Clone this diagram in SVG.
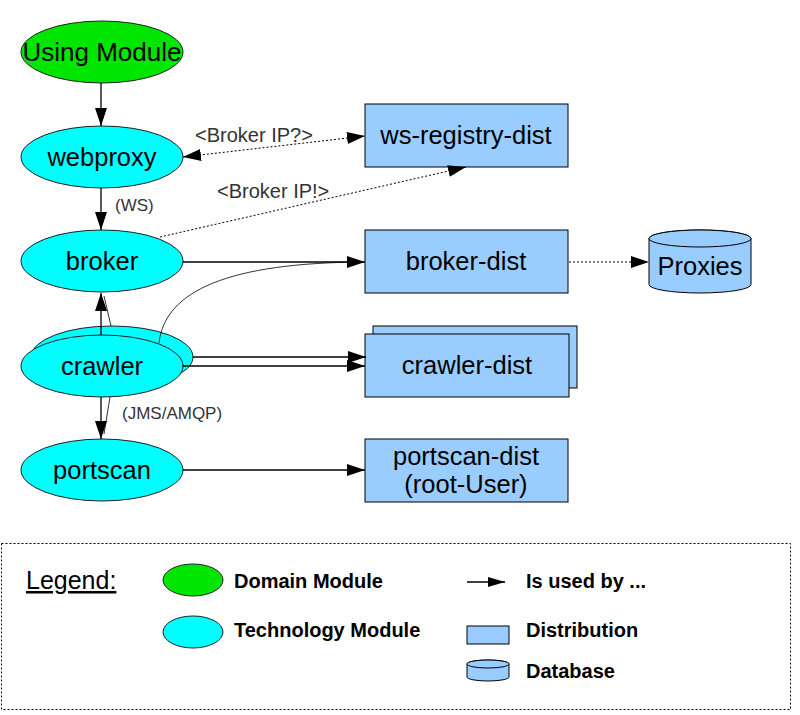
<svg xmlns="http://www.w3.org/2000/svg" width="800" height="715" viewBox="0 0 800 715">
<style>
text{font-family:"Liberation Sans",Arial,sans-serif;fill:#000}
.n{font-size:25.5px;text-anchor:middle}
.lbl{font-size:20px;fill:#333}
.sm{font-size:17px;fill:#333}
.leg{font-size:20px;font-weight:bold}
.tech{fill:#00ffff;stroke:#222;stroke-width:1}
.dom{fill:#00e600;stroke:#222;stroke-width:1}
.dist{fill:#99ccff;stroke:#000;stroke-width:1}
.c{fill:none;stroke:#000;stroke-width:1.3}
.thin{fill:none;stroke:#000;stroke-width:0.8}
.dot{fill:none;stroke:#000;stroke-width:1;stroke-dasharray:2,2}
</style>
<defs>
<marker id="ah" markerUnits="userSpaceOnUse" markerWidth="18" markerHeight="12" refX="18" refY="6" orient="auto-start-reverse">
<path d="M0,0 L18,6 L0,12 z" fill="#000"/>
</marker>
<marker id="ahs" markerUnits="userSpaceOnUse" markerWidth="17" markerHeight="10" refX="17" refY="5" orient="auto">
<path d="M0,0 L17,5 L0,10 z" fill="#000"/>
</marker>
</defs>

<g id="using-module">
<ellipse class="dom" cx="102" cy="52" rx="81" ry="31"/>
<text class="n" x="102" y="61" style="font-size:26px">Using Module</text>
</g>
<g id="webproxy">
<ellipse class="tech" cx="102" cy="157" rx="81" ry="31"/>
<text class="n" x="102" y="166">webproxy</text>
</g>
<g id="broker">
<ellipse class="tech" cx="102" cy="261" rx="81" ry="31"/>
<text class="n" x="102" y="270">broker</text>
</g>
<g id="crawler">
<ellipse class="tech" cx="112" cy="357" rx="81" ry="31"/>
<ellipse class="tech" cx="102" cy="366" rx="81" ry="31"/>
<text class="n" x="102" y="375">crawler</text>
</g>
<g id="portscan">
<ellipse class="tech" cx="102" cy="470" rx="81" ry="31"/>
<text class="n" x="102" y="479">portscan</text>
</g>
<g id="ws-registry-dist">
<rect class="dist" x="365" y="104" width="203" height="63"/>
<text class="n" x="466" y="144">ws-registry-dist</text>
</g>
<g id="broker-dist">
<rect class="dist" x="365" y="230" width="203" height="63"/>
<text class="n" x="466" y="270">broker-dist</text>
</g>
<g id="crawler-dist">
<rect class="dist" x="373" y="326" width="204" height="62"/>
<rect class="dist" x="365" y="334" width="204" height="63"/>
<text class="n" x="467" y="374">crawler-dist</text>
</g>
<g id="portscan-dist">
<rect class="dist" x="365" y="439" width="203" height="63"/>
<text class="n" x="466" y="465">portscan-dist</text>
<text class="n" x="466" y="493">(root-User)</text>
</g>
<g id="proxies">
<path class="dist" d="M649,238.5 V284.5 A51,8.5 0 0 0 751,284.5 V238.5 A51,8.5 0 0 0 649,238.5 Z"/>
<ellipse class="dist" cx="700" cy="238.5" rx="51" ry="8.5"/>
<text class="n" x="700" y="275">Proxies</text>
</g>

<g id="connectors">
<line class="c" x1="101" y1="83" x2="101" y2="126" marker-end="url(#ah)"/>
<path class="dot" d="M183,157 L365,136" marker-start="url(#ah)" marker-end="url(#ah)"/>
<text class="lbl" x="195" y="142">&lt;Broker IP?&gt;</text>
<line class="c" x1="101" y1="188" x2="101" y2="230" marker-end="url(#ah)"/>
<text class="sm" x="115" y="211">(WS)</text>
<path class="dot" d="M160,237 L466,167" marker-end="url(#ah)"/>
<text class="lbl" x="217" y="198">&lt;Broker IP!&gt;</text>
<line class="c" x1="183" y1="262" x2="365" y2="262" marker-end="url(#ah)"/>
<path class="thin" d="M159,343 C165,290 230,263 362,262"/>
<line class="c" x1="101" y1="335" x2="101" y2="293" marker-end="url(#ah)"/>
<line class="thin" x1="111" y1="326" x2="104" y2="296"/>
<line class="c" x1="193" y1="357" x2="366" y2="357" marker-end="url(#ah)"/>
<line class="c" x1="183" y1="366" x2="365" y2="366" marker-end="url(#ah)"/>
<line class="c" x1="101" y1="397" x2="101" y2="439" marker-end="url(#ah)"/>
<line class="thin" x1="110" y1="397" x2="104" y2="434"/>
<text class="sm" x="122" y="419">(JMS/AMQP)</text>
<line class="c" x1="183" y1="470" x2="365" y2="470" marker-end="url(#ah)"/>
<path class="dot" d="M569,262 L649,262" marker-end="url(#ah)"/>
</g>

<g id="legend">
<rect x="1.5" y="543.5" width="789" height="166" fill="none" stroke="#000" stroke-width="1" stroke-dasharray="2,2"/>
<text x="26" y="589" font-size="25" text-decoration="underline">Legend:</text>
<ellipse class="dom" cx="193" cy="580" rx="30" ry="16"/>
<text class="leg" x="234" y="588">Domain Module</text>
<ellipse class="tech" cx="193" cy="632" rx="30" ry="16"/>
<text class="leg" x="234" y="637">Technology Module</text>
<line class="c" x1="467" y1="582" x2="505" y2="582" marker-end="url(#ahs)"/>
<text class="leg" x="526" y="588">Is used by ...</text>
<rect class="dist" x="467" y="626" width="42" height="18"/>
<text class="leg" x="526" y="637">Distribution</text>
<path class="dist" d="M467,664 V677 A21,4 0 0 0 509,677 V664 A21,4 0 0 0 467,664 Z"/>
<ellipse class="dist" cx="488" cy="664" rx="21" ry="4"/>
<text class="leg" x="526" y="678">Database</text>
</g>
</svg>
